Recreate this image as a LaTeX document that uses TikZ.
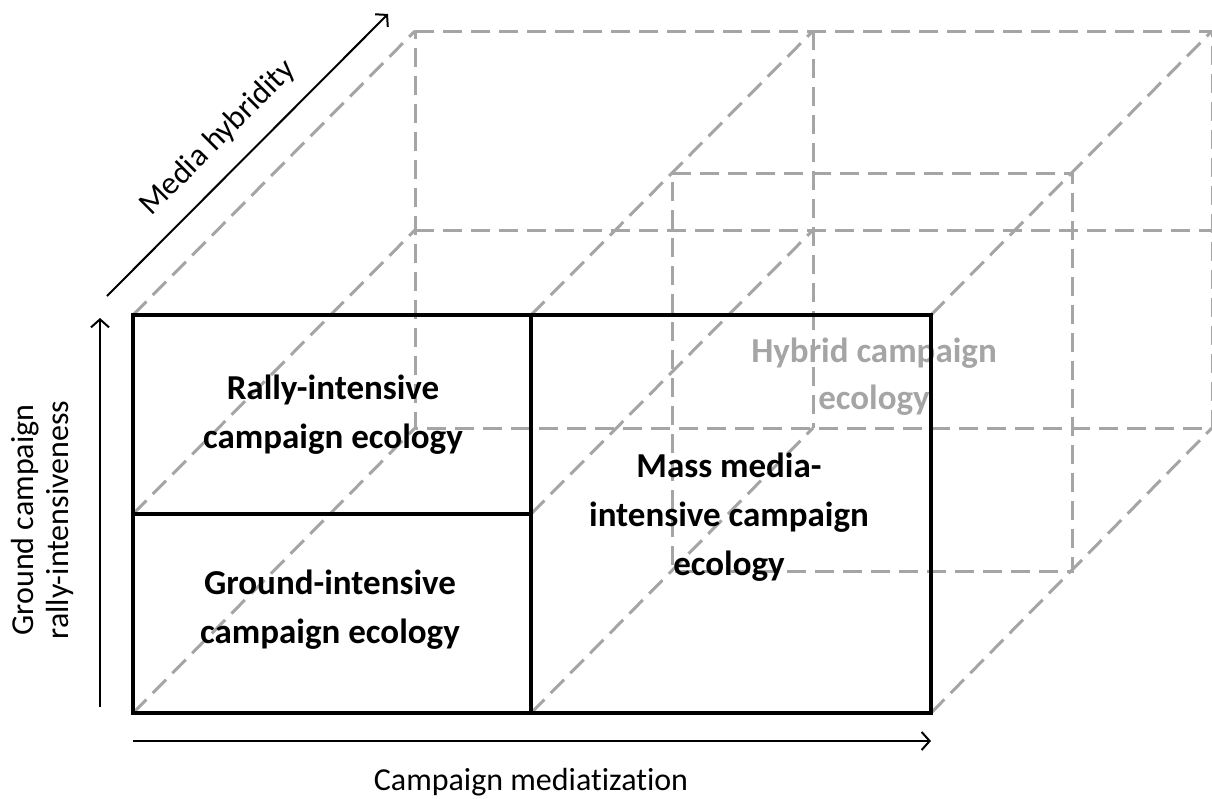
\documentclass[tikz,border=0pt]{standalone}
\usepackage{fontspec}
\setmainfont{Carlito}[Ligatures=NoCommon]
\usetikzlibrary{arrows.meta}
\definecolor{hidgray}{HTML}{A5A5A5}
\tikzset{
  hid/.style={line width=3pt, hidgray, dash pattern=on 19pt off 9pt},
  frontline/.style={line width=3.2pt, black},
  axisarrow/.style={line width=2pt, black, -{Straight Barb[length=8pt,width=18pt]}},
  celltext/.style={font=\fontsize{35}{49}\selectfont\bfseries, align=center, inner sep=0pt},
  hybridtext/.style={font=\fontsize{35}{47}\selectfont\bfseries, align=center, inner sep=0pt, text=hidgray},
  axistext/.style={font=\fontsize{32}{35}\selectfont, align=center, inner sep=0pt}
}
\begin{document}
\begin{tikzpicture}[x=1pt,y=-1pt]
\useasboundingbox (0,0) rectangle (1212,798);
% front face corners
\coordinate (F1) at (133,315); \coordinate (F2) at (531,315); \coordinate (F3) at (931,315);
\coordinate (F4) at (133,514); \coordinate (F5) at (531,514);
\coordinate (F6) at (133,713); \coordinate (F7) at (531,713); \coordinate (F8) at (931,713);
% back face corners
\coordinate (B1) at (415,31); \coordinate (B2) at (813,31); \coordinate (B3) at (1212,31);
\coordinate (B4) at (415,230); \coordinate (B5) at (813,230); \coordinate (B6) at (1212,230);
\coordinate (B7) at (415,428); \coordinate (B8) at (813,428); \coordinate (B9) at (1212,428);
% middle layer corners
\coordinate (M1) at (672,173); \coordinate (M2) at (1072,173);
\coordinate (M3) at (672,571); \coordinate (M4) at (1072,571);

% hybrid label (behind lines)
\node[hybridtext] (hybrid) at (874,377) {Hybrid campaign\\ecology};

% hidden (dashed) edges
\draw[hid] (B1) -- (B3) -- (B9) -- (B7) -- cycle;
\draw[hid] (B4) -- (B6);
\draw[hid] (B2) -- (B8);
\draw[hid] (M1) -- (M2) -- (M4) -- (M3) -- cycle;
\draw[hid] (F1) -- (B1);
\draw[hid] (F4) -- (B4);
\draw[hid] (F6) -- (B7);
\draw[hid] (F2) -- (B2);
\draw[hid] (F5) -- (B5);
\draw[hid] (F7) -- (B8);
\draw[hid] (F3) -- (B3);
\draw[hid] (F8) -- (B9);

% front face
\draw[frontline] (F1) rectangle (F8);
\draw[frontline] (F2) -- (F7);
\draw[frontline] (F4) -- (F5);

% cell labels
\node[celltext] (rally) at (333,415) {Rally-intensive\\campaign ecology};
\node[celltext] (ground) at (330,610) {Ground-intensive\\campaign ecology};
\node[celltext] (mass) at (729,517) {Mass media-\\intensive campaign\\ecology};

% axes
\coordinate (vA) at (100,707); \coordinate (vB) at (100,318);
\coordinate (hA) at (133,741); \coordinate (hB) at (931,741);
\coordinate (dA) at (107,296); \coordinate (dB) at (388,14);
\draw[axisarrow] (vA) -- (vB);
\draw[axisarrow] (hA) -- (hB);
\draw[axisarrow] (dA) -- (dB);

\node[axistext, rotate=90] (ylab) at (42,520) {Ground campaign\\rally-intensiveness};
\node[axistext, anchor=base] (xlab) at (531,790) {Campaign mediatization};
\node[axistext, anchor=base, rotate=45] (zlab) at (224,144) {Media hybridity};
\end{tikzpicture}
\end{document}
